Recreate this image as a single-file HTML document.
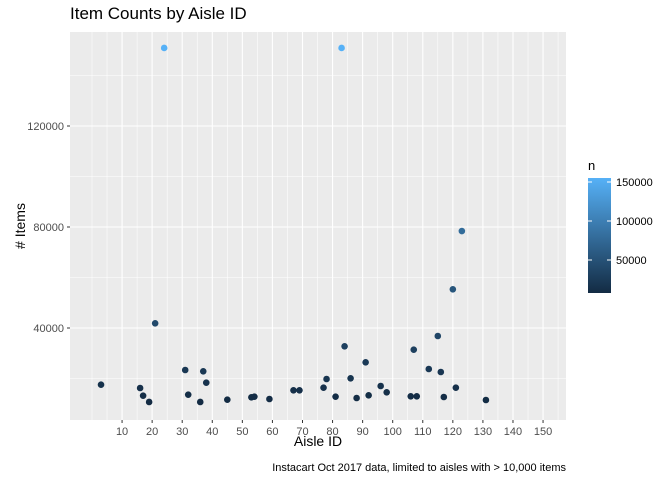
<!DOCTYPE html>
<html><head><meta charset="utf-8"><style>
body{margin:0;background:#fff;font-family:"Liberation Sans",sans-serif}
svg text{font-family:"Liberation Sans",sans-serif}
</style></head><body>
<svg id="c" width="672" height="480" xmlns="http://www.w3.org/2000/svg">
<defs><linearGradient id="g" x1="0" y1="1" x2="0" y2="0"><stop offset="0" stop-color="#132B43"/><stop offset="1" stop-color="#56B1F7"/></linearGradient></defs>
<text x="70" y="19" font-size="17" fill="#000">Item Counts by Aisle ID</text>
<rect x="70" y="32" width="496" height="388" fill="#EBEBEB"/>
<g id="grid"></g><g id="pts"></g><g id="axes"></g>
<text x="318" y="446" font-size="14" text-anchor="middle">Aisle ID</text>
<text transform="translate(25,226) rotate(-90)" font-size="14" text-anchor="middle"># Items</text>
<text x="566" y="471" font-size="11" text-anchor="end">Instacart Oct 2017 data, limited to aisles with &gt; 10,000 items</text>
<text x="588" y="170" font-size="13">n</text>
<rect x="588" y="178" width="23" height="115" fill="url(#g)"/>
<g id="leg"></g>
</svg>
<script>
const aisles=[3,21,16,17,19,31,32,37,38,36,45,53,54,59,67,69,77,78,81,84,86,88,91,92,96,98,106,108,107,112,115,116,117,120,121,131,24,83,123];
const counts=[17540,41860,16240,13200,10700,23370,13600,22850,18340,10700,11600,12550,12800,11880,15330,15330,16360,19800,12800,32750,20080,12280,26400,13330,17030,14530,12950,12950,31400,23760,36830,22570,12670,55330,16360,11490,150900,150900,78400];
const xTicks=[10,20,30,40,50,60,70,80,90,100,110,120,130,140,150];
const yTicks=[40000,80000,120000];
const legTicks=[50000,100000,150000];
const NS="http://www.w3.org/2000/svg";
const X=v=>92+v*3.007, Y=v=>429-v*0.002525;
const cmin=Math.min(...counts), cmax=Math.max(...counts);
function col(v){const t=(v-cmin)/(cmax-cmin);const a=[0x13,0x2B,0x43],b=[0x56,0xB1,0xF7];return `rgb(${a.map((c,i)=>Math.round(c+(b[i]-c)*t)).join(',')})`;}
function mk(p,tag,at){const e=document.createElementNS(NS,tag);for(const k in at)e.setAttribute(k,at[k]);document.getElementById(p).appendChild(e);return e;}
// grid
for(let v=0;v<=155;v+=5){const major=xTicks.includes(v);const l=mk('grid','line',{x1:X(v),x2:X(v),y1:32,y2:420,stroke:'#fff','stroke-width':major?1.1:0.55});

}
for(let v=20000;v<=140000;v+=20000){const major=yTicks.includes(v);const l=mk('grid','line',{x1:70,x2:566,y1:Y(v),y2:Y(v),stroke:'#fff','stroke-width':major?1.1:0.55});

}
xTicks.forEach(v=>{mk('axes','line',{x1:X(v),x2:X(v),y1:420,y2:423,stroke:'#333'});const t=mk('axes','text',{x:X(v),y:435,'font-size':11,'text-anchor':'middle',fill:'#4D4D4D'});t.textContent=v;

});
yTicks.forEach(v=>{mk('axes','line',{x1:67,x2:70,y1:Y(v),y2:Y(v),stroke:'#333'});const t=mk('axes','text',{x:64,y:Y(v)+4,'font-size':11,'text-anchor':'end',fill:'#4D4D4D'});t.textContent=v;

});
aisles.forEach((a,i)=>{const c=mk('pts','circle',{cx:X(a),cy:Y(counts[i]),r:3.3,fill:col(counts[i])});

});
const LY=v=>260-(v-50000)*39/50000;
legTicks.forEach(v=>{mk('leg','line',{x1:588,x2:592,y1:LY(v),y2:LY(v),stroke:'#fff'});mk('leg','line',{x1:607,x2:611,y1:LY(v),y2:LY(v),stroke:'#fff'});const t=mk('leg','text',{x:616,y:LY(v)+4,'font-size':11,fill:'#000'});t.textContent=v;

});
</script>
</body></html>
